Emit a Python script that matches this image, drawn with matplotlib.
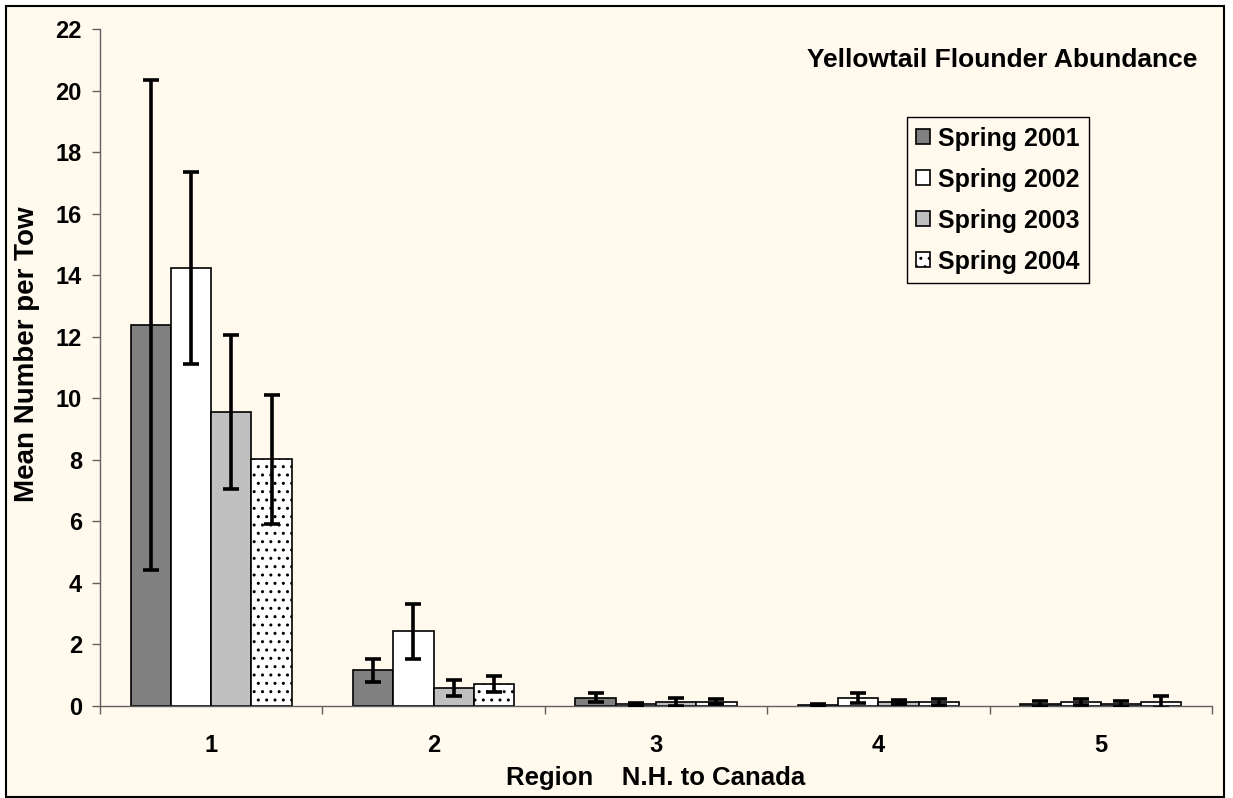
"""
plot.py - Yellowtail flounder abundance by region, spring surveys 2001-2004.
Grouped bars with +/- error bars, Excel-style cream background.
"""

import numpy as np
import matplotlib
matplotlib.use("Agg")
import matplotlib.pyplot as plt
from matplotlib.patches import Rectangle

# ---- data ----
regions = ["1", "2", "3", "4", "5"]
series_labels = ["Spring 2001", "Spring 2002", "Spring 2003", "Spring 2004"]

spring_2001 = [12.38, 1.16, 0.27, 0.04, 0.07]
spring_2001_err = [7.97, 0.37, 0.14, 0.04, 0.09]
spring_2002 = [14.22, 2.43, 0.05, 0.26, 0.13]
spring_2002_err = [3.12, 0.90, 0.05, 0.16, 0.10]
spring_2003 = [9.56, 0.59, 0.14, 0.13, 0.07]
spring_2003_err = [2.50, 0.25, 0.13, 0.08, 0.09]
spring_2004 = [8.02, 0.72, 0.14, 0.13, 0.13]
spring_2004_err = [2.10, 0.25, 0.08, 0.09, 0.18]

y_ticks = list(range(0, 23, 2))

# ---- style ----
BG = "#FFF9EE"
AXIS_GREY = "#606060"
FONT = "Liberation Sans"
plt.rcParams["font.family"] = [FONT, "DejaVu Sans"]
plt.rcParams["font.weight"] = "bold"
plt.rcParams["hatch.linewidth"] = 1.0

fig = plt.figure(figsize=(12.33, 7.98), dpi=100, facecolor="white")

# outer chart frame (cream panel with black border), kept behind the axes
frame = Rectangle((6 / 1233, 1 / 798), 1218 / 1233, 791 / 798,
                  transform=fig.transFigure, facecolor=BG,
                  edgecolor="black", linewidth=1.5, zorder=-10)
fig.add_artist(frame)

ax = fig.add_axes([100 / 1233, 1 - 706 / 798, 1112 / 1233, 677 / 798])
ax.set_facecolor(BG)

x = np.arange(len(regions))
width = 0.181
values = [spring_2001, spring_2002, spring_2003, spring_2004]
errors = [spring_2001_err, spring_2002_err, spring_2003_err, spring_2004_err]
faces = ["#808080", "white", "#C0C0C0", "white"]
hatches = [None, None, None, ".."]

for i, (vals, errs) in enumerate(zip(values, errors)):
    ax.bar(x + (i - 1.5) * width, vals, width, color=faces[i], edgecolor="black",
           linewidth=1.2, hatch=hatches[i], label=series_labels[i], zorder=2,
           yerr=errs, error_kw=dict(ecolor="black", elinewidth=2.6, capsize=6,
                                    capthick=2.6, zorder=3))

ax.set_xlim(-0.5, len(regions) - 0.5)
ax.set_ylim(0, 22)

for side in ("top", "right"):
    ax.spines[side].set_visible(False)
for side in ("left", "bottom"):
    ax.spines[side].set_color(AXIS_GREY)
    ax.spines[side].set_linewidth(1.0)

ax.set_yticks(y_ticks)
ax.set_yticklabels([str(v) for v in y_ticks], fontsize=17, fontweight="bold")
ax.tick_params(axis="y", direction="out", length=6, width=1.0, color=AXIS_GREY, pad=7)

# category labels centred, tick marks on the category boundaries
ax.set_xticks(x)
ax.set_xticklabels(regions, fontsize=17, fontweight="bold")
ax.tick_params(axis="x", which="major", length=0, pad=20)
ax.set_xticks(np.arange(-0.5, len(regions)), minor=True)
ax.tick_params(axis="x", which="minor", direction="out", length=6, width=1.0,
               color=AXIS_GREY)

ax.set_ylabel("Mean Number per Tow", fontsize=20, fontweight="bold")
ax.yaxis.set_label_coords(-0.054, 0.52)
ax.set_xlabel("Region    N.H. to Canada", fontsize=18.5, fontweight="bold", labelpad=7)

ax.text(0.9865, 0.954, "Yellowtail Flounder Abundance", transform=ax.transAxes,
        ha="right", va="center", fontsize=19, fontweight="bold")

leg = ax.legend(loc="upper left", bbox_to_anchor=(0.7255, 0.870), fontsize=18,
                frameon=True, fancybox=False, framealpha=1, facecolor=BG,
                edgecolor="black", handlelength=0.55, handleheight=0.55,
                handletextpad=0.3, labelspacing=0.68, borderpad=0.38,
                borderaxespad=0)
leg.get_frame().set_linewidth(1.0)
for t in leg.get_texts():
    t.set_fontweight("bold")

fig.savefig("out.png", dpi=100, facecolor=fig.get_facecolor())
